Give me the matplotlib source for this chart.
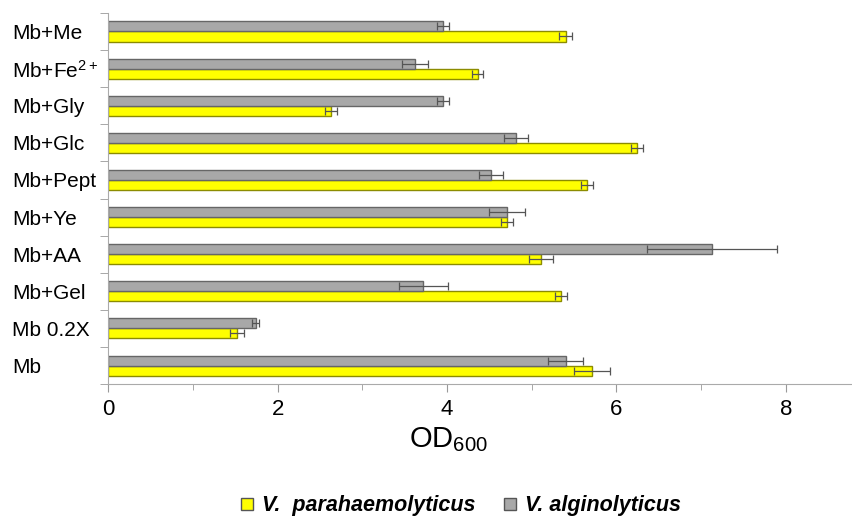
import numpy as np
import matplotlib
matplotlib.use('Agg')
import matplotlib.pyplot as plt
from matplotlib.lines import Line2D

plt.rcParams['font.family'] = ['Liberation Sans', 'DejaVu Sans']
plt.rcParams['mathtext.fontset'] = 'custom'
plt.rcParams['mathtext.rm'] = 'Liberation Sans'
plt.rcParams['mathtext.it'] = 'Liberation Sans:italic'

# bottom to top
labels = ['Mb', 'Mb 0.2X', 'Mb+Gel', 'Mb+AA', 'Mb+Ye',
          'Mb+Pept', 'Mb+Glc', 'Mb+Gly', 'Mb+Fe$^{2+}$', 'Mb+Me']
para = [5.71, 1.52, 5.35, 5.11, 4.71, 5.65, 6.24, 2.63, 4.36, 5.40]
para_err = [0.21, 0.08, 0.07, 0.14, 0.07, 0.07, 0.07, 0.07, 0.07, 0.08]
algi = [5.40, 1.74, 3.72, 7.13, 4.71, 4.52, 4.81, 3.95, 3.62, 3.95]
algi_err = [0.21, 0.04, 0.29, 0.77, 0.21, 0.14, 0.14, 0.07, 0.15, 0.07]

yellow = '#ffff00'
grey = '#a8a8a8'

fig = plt.figure(figsize=(8.52, 5.17), dpi=100)
ax = fig.add_axes([0.127, 0.257, 0.873, 0.718])

y = np.arange(len(labels))
h = 0.27
err_kw = dict(ecolor='#555555', elinewidth=0.9, capsize=3, capthick=0.9)
ax.barh(y - h / 2, para, height=h, color=yellow, edgecolor='#8c8c00',
        linewidth=1, xerr=para_err, error_kw=err_kw)
ax.barh(y + h / 2, algi, height=h, color=grey, edgecolor='#666666',
        linewidth=1, xerr=algi_err, error_kw=err_kw)

ax.set_ylim(-0.5, len(labels) - 0.5)
ax.set_xlim(0, 8.78)

ax.set_yticks(y)
ax.set_yticklabels(labels, fontsize=15, ha='left')
ax.tick_params(axis='y', which='major', length=0, pad=69)
ax.set_yticks(np.arange(len(labels) + 1) - 0.5, minor=True)
ax.tick_params(axis='y', which='minor', length=6, direction='out',
               color='#999999')

ax.set_xticks(np.arange(0, 9, 2))
ax.set_xticks(np.arange(1, 9, 2), minor=True)
ax.tick_params(axis='x', which='major', length=6, color='#999999',
               labelsize=16, pad=5)
ax.tick_params(axis='x', which='minor', length=4, color='#999999')

for s in ['top', 'right']:
    ax.spines[s].set_visible(False)
ax.spines['left'].set_color('#aaaaaa')
ax.spines['bottom'].set_color('#aaaaaa')

ax.set_xlabel('OD$_{600}$', fontsize=21)
ax.xaxis.set_label_coords(0.457, -0.11)

handles = [Line2D([], [], marker='s', linestyle='none', markersize=8,
                  markerfacecolor=yellow, markeredgecolor='#555555'),
           Line2D([], [], marker='s', linestyle='none', markersize=8,
                  markerfacecolor=grey, markeredgecolor='#555555')]
fig.legend(handles, ['V.  parahaemolyticus', 'V. alginolyticus'],
           loc='lower center', bbox_to_anchor=(0.537, -0.036), ncol=2,
           frameon=False, handletextpad=0.1, columnspacing=1.0,
           handlelength=1.2,
           prop=dict(size=15.5, weight='bold', style='italic'))

fig.savefig('out.png', dpi=100)
